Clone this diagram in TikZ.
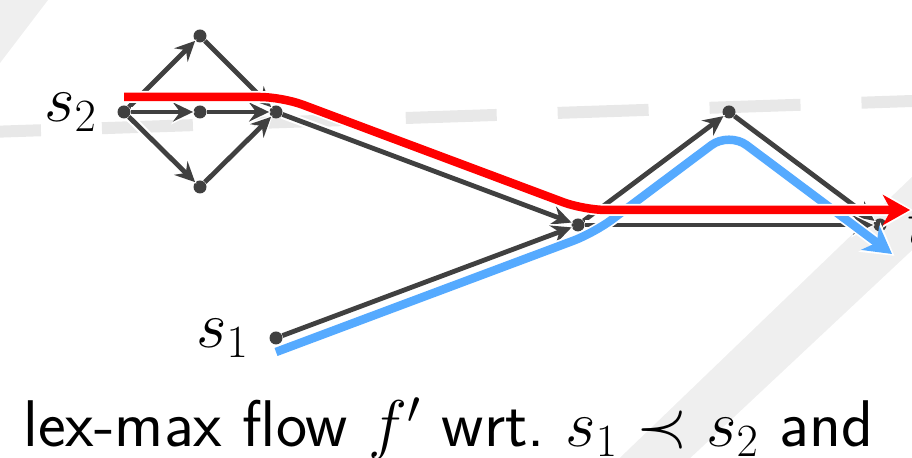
\RequirePackage{fix-cm}
\documentclass[tikz,border=0pt]{standalone}
\usepackage{xcolor}
\usepackage{tikz}
\usetikzlibrary{arrows.meta, positioning}

\definecolor{edgegray}{HTML}{404040}
\definecolor{flowred}{HTML}{FF0000}
\definecolor{flowblue}{HTML}{55AAFF}
\definecolor{bgband}{HTML}{EFEFEF}
\definecolor{bgdash}{HTML}{E8E8E8}

\begin{document}
\begin{tikzpicture}[
    x=0.5pt, y=-0.5pt,
    vertex/.style={circle, fill=edgegray, inner sep=0pt, minimum size=6.5pt},
    vlabel/.style={inner sep=0pt, font=\fontsize{33}{40}\selectfont},
    link/.style={draw=edgegray, line width=2.4pt, -{Stealth[length=10pt, width=9.5pt, inset=3.5pt]},
        preaction={draw=white, line width=4.5pt, -{Stealth[length=12pt, width=12.5pt, inset=4.5pt]}, shorten >=-1pt}},
    flowpath/.style={line width=4.25pt, rounded corners=11pt, -{Stealth[length=13.5pt, width=15pt, inset=4pt]},
        preaction={draw=white, line width=6pt, -{Stealth[length=15.5pt, width=18pt, inset=5pt]}, shorten >=-1.5pt}},
    caption/.style={anchor=base west, inner sep=0pt, font=\sffamily\fontsize{33}{40}\selectfont}
]
\useasboundingbox (0,0) rectangle (912,458);
\clip (0,0) rectangle (912,458);

% Background
\fill[bgband] (0,0) -- (48,0) -- (0,63) -- cycle;
\fill[bgband] (600,477) -- (940,150) -- (940,224) -- (670,477) -- cycle;
\draw[bgdash, line width=6pt, dash pattern=on 45.5pt off 30.5pt] (-50,133.3) -- (960,99.4);

% Vertices
\node[vertex] (src_two) at (124,112) {};
\node[vertex] (upper) at (200,36) {};
\node[vertex] (middle) at (200,112) {};
\node[vertex] (lower) at (200,187) {};
\node[vertex] (merge) at (276,112) {};
\node[vertex] (hub) at (578,225) {};
\node[vertex] (peak) at (729,112) {};
\node[vertex] (sink) at (880,225) {};
\node[vertex] (src_one) at (276,338) {};

% Vertex labels
\node[vlabel, left=10pt of src_two] (src_two_label) {$s_2$};
\node[vlabel, left=10pt of src_one] (src_one_label) {$s_1$};
\node[vlabel, right=10pt of sink] (sink_label) {$t$};

% Edges
\draw[link] (src_two) -- (upper);
\draw[link] (src_two) -- (middle);
\draw[link] (src_two) -- (lower);
\draw[link] (upper) -- (merge);
\draw[link] (middle) -- (merge);
\draw[link] (lower) -- (merge);
\draw[link] (merge) -- (hub);
\draw[link] (src_one) -- (hub);
\draw[link] (hub) -- (peak);
\draw[link] (peak) -- (sink);
\draw[link] (hub) -- (sink);

% Flow paths
\coordinate (blue_start) at (276,352);
\coordinate (blue_knee) at (594,233);
\coordinate (blue_top) at (729,132);
\coordinate (blue_end) at (892,254);
\coordinate (red_start) at (124,97);
\coordinate (red_knee) at (282,97);
\coordinate (red_foot) at (584,210);
\coordinate (red_end) at (910,210);

\draw[flowpath, draw=flowblue] (blue_start) -- (blue_knee) -- (blue_top) -- (blue_end);
\draw[flowpath, draw=flowred] (red_start) -- (red_knee) -- (red_foot) -- (red_end);

% Caption
\node[caption] (caption_text) at (23,447) {lex-max flow $f'$ wrt.\ $s_1 \prec s_2$ and};

\end{tikzpicture}
\end{document}
